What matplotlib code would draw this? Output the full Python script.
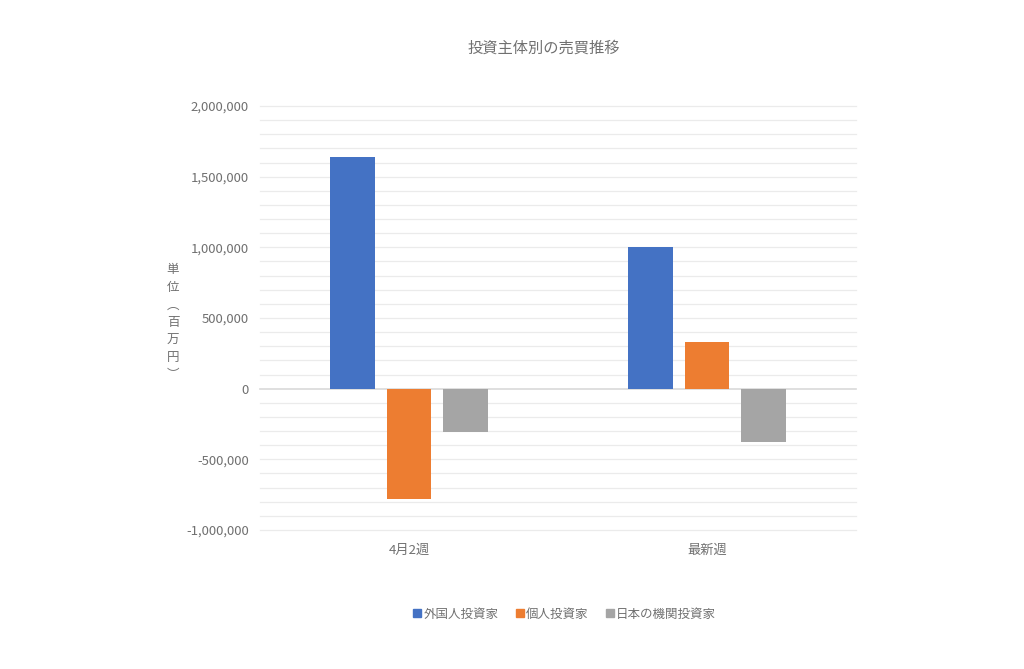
import matplotlib
matplotlib.use("Agg")
import matplotlib.pyplot as plt
from matplotlib.ticker import FuncFormatter, MultipleLocator
from matplotlib.lines import Line2D
import numpy as np

plt.rcParams['font.family'] = ['Noto Sans CJK JP', 'DejaVu Sans']

categories = ["4月2週", "最新週"]
series_names = ["外国人投資家", "個人投資家", "日本の機関投資家"]
foreign = [1640000, 1000000]
individual = [-780000, 330000]
institutional = [-310000, -380000]
colors = ["#4472C4", "#ED7D31", "#A5A5A5"]
title = "投資主体別の売買推移"
ylabel = "単位︵百万円︶"

text_color = "#707070"
fig = plt.figure(figsize=(10.24, 6.69), dpi=100)
ax = fig.add_axes([260 / 1024, 0.2078, 596 / 1024, 0.6338])

x = np.arange(len(categories))
width = 0.15
step = 0.19
for i, (vals, c) in enumerate(zip([foreign, individual, institutional], colors)):
    ax.bar(x + (i - 1) * step, vals, width=width, color=c, zorder=3)

ymin, ymax = -1000000, 2000000
ax.set_xlim(-0.5, 1.5)
ax.set_ylim(ymin, ymax)
ax.yaxis.set_major_locator(MultipleLocator(500000))
ax.yaxis.set_major_formatter(FuncFormatter(lambda v, p: f"{int(v):,}"))
for gy in np.arange(ymin, ymax + 1, 100000):
    ax.axhline(gy, color="#D9D9D9" if gy == 0 else "#EBEBEB",
               linewidth=1.2 if gy == 0 else 0.9, zorder=0 if gy else 2, clip_on=False)
for s in ax.spines.values():
    s.set_visible(False)
ax.tick_params(axis='both', which='both', length=0, colors=text_color, labelsize=9.5)
ax.tick_params(axis='y', pad=8)
ax.tick_params(axis='x', pad=10)
ax.set_xticks(x)
ax.set_xticklabels(categories)

fig.text(0.531, 0.928, title, ha='center', va='center', fontsize=11, color=text_color)
fig.text(0.169, 0.518, "\n".join(ylabel), ha='center', va='center', fontsize=9,
         color=text_color, linespacing=1.45)

handles = [Line2D([0], [0], marker='s', linestyle='none', markersize=5.5,
                  markerfacecolor=c, markeredgecolor=c) for c in colors]
fig.legend(handles, series_names, loc='center', bbox_to_anchor=(0.551, 0.082), ncol=3,
           frameon=False, fontsize=9, labelcolor=text_color, handletextpad=0.1,
           columnspacing=1.3, handlelength=0.8)

fig.savefig("out.png", dpi=100, facecolor="white")
